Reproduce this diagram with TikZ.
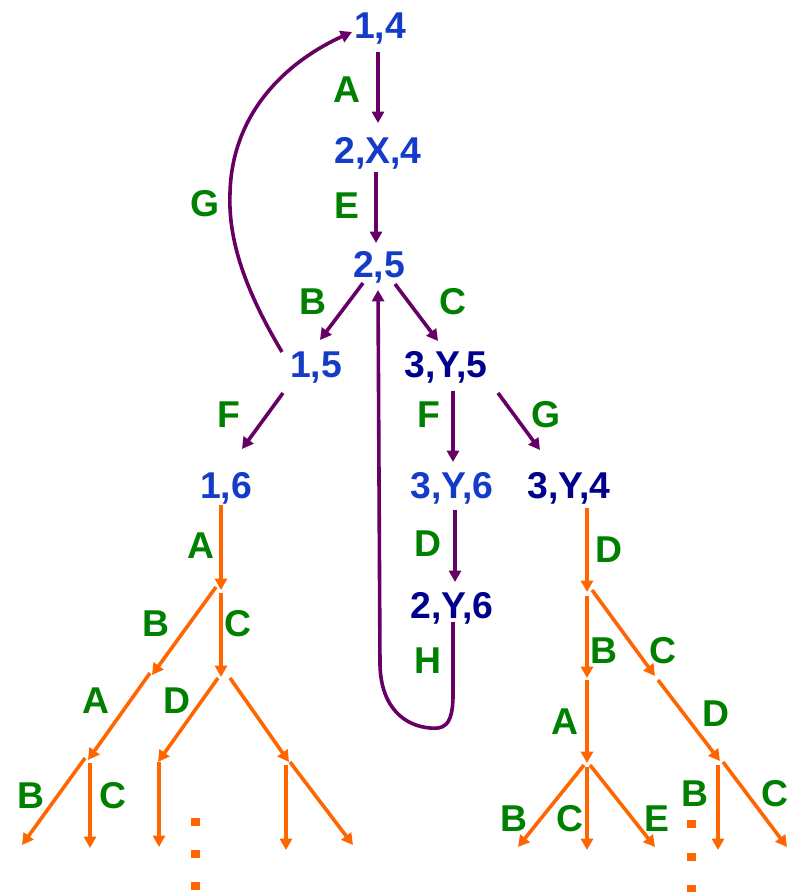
\documentclass[tikz,border=0pt]{standalone}
\usepackage{fontspec}
\setmainfont{Liberation Sans}
\usetikzlibrary{arrows.meta}
\definecolor{stblue}{RGB}{20,60,200}
\definecolor{stnavy}{RGB}{0,0,140}
\definecolor{lblgreen}{RGB}{0,128,0}
\definecolor{arrpurple}{RGB}{102,0,102}
\definecolor{arrorange}{RGB}{255,102,0}
\begin{document}
\begin{tikzpicture}[x=0.75pt,y=-0.75pt,
  txt/.style={font=\fontsize{28}{32}\selectfont\bfseries, inner sep=0pt, text height=20pt, text depth=0pt, anchor=center},
  st/.style={txt, text=stblue},
  stn/.style={txt, text=stnavy},
  lbl/.style={txt, text=lblgreen},
  parr/.style={draw=arrpurple, line width=2.7pt, -{Triangle[width=9pt,length=8.5pt]}},
  oarr/.style={draw=arrorange, line width=2.7pt, -{Triangle[width=9pt,length=8.5pt]}},
  dotsq/.style={fill=arrorange, minimum width=6.75pt, minimum height=6pt, inner sep=0pt}]
\useasboundingbox (0,0) rectangle (794,892);
% state nodes
\node[st] (n14) at (380,25) {1,4};
\node[st] (n2x4) at (378,150) {2,X,4};
\node[st] (n25) at (379,264) {2,5};
\node[st] (n15) at (316,364) {1,5};
\node[stn] (n3y5) at (446,364) {3,Y,5};
\node[st] (n16) at (226,485) {1,6};
\node[st] (n3y6) at (452,485) {3,Y,6};
\node[stn] (n3y4) at (569,485) {3,Y,4};
\node[stn] (n2y6) at (452,605) {2,Y,6};
% purple transitions
\draw[parr] ([shift={(-2,27)}]n14.center) -- ([shift={(0,-27)}]n2x4.center);
\draw[parr] ([shift={(-2,22)}]n2x4.center) -- ([shift={(-3,-21)}]n25.center);
\draw[parr] ([shift={(-16,19)}]n25.center) -- ([shift={(4,-24)}]n15.center);
\draw[parr] ([shift={(16,20)}]n25.center) -- ([shift={(-8,-23)}]n3y5.center);
\draw[parr] ([shift={(-33,29)}]n15.center) -- ([shift={(16,-36)}]n16.center);
\draw[parr] ([shift={(7,27)}]n3y5.center) -- ([shift={(1,-23)}]n3y6.center);
\draw[parr] ([shift={(52,29)}]n3y5.center) -- ([shift={(-29,-35)}]n3y4.center);
\draw[parr] ([shift={(3,25)}]n3y6.center) -- ([shift={(3,-23)}]n2y6.center);
\coordinate (gmid) at (230,193);
\draw[parr] ([shift={(-34,-12)}]n15.center) .. controls (245,290) and (228,240) .. (gmid)
  .. controls (232,110) and (290,60) .. ([shift={(-28,7)}]n14.center);
\coordinate (hbot) at (430,728);
\draw[parr] ([shift={(1,17)}]n2y6.center) -- (453,695) .. controls (453,728) and (442,729) .. (hbot)
  .. controls (405,726) and (381,708) .. (380,665) -- ([shift={(-1,26)}]n25.center);
% green labels
\node[lbl] (la1) at (347,89) {A};
\node[lbl] (le1) at (347,205) {E};
\node[lbl] (lg1) at (205,203) {G};
\node[lbl] (lb1) at (313,301) {B};
\node[lbl] (lc1) at (453,301) {C};
\node[lbl] (lf1) at (229,414) {F};
\node[lbl] (lf2) at (429,414) {F};
\node[lbl] (lg2) at (546,414) {G};
\node[lbl] (ld1) at (428,543) {D};
\node[lbl] (lh1) at (428,660) {H};
% left orange tree
\coordinate (Q1) at (221,590);
\coordinate (Q2) at (152,675);
\coordinate (Q3) at (221,677);
\coordinate (Q4) at (88,760);
\coordinate (Q5) at (158,762);
\coordinate (Q6) at (289,762);
\coordinate (L1) at (22,845);
\coordinate (L2) at (90,848);
\coordinate (L3) at (159,847);
\coordinate (L4) at (286,850);
\coordinate (L5) at (353,845);
\draw[oarr] ([shift={(-5,20)}]n16.center) -- (Q1);
\draw[oarr] ([shift={(-5,-3)}]Q1) -- (Q2);
\draw[oarr] ([shift={(0,3)}]Q1) -- (Q3);
\draw[oarr] ([shift={(-2,-2)}]Q2) -- (Q4);
\draw[oarr] ([shift={(-3,1)}]Q3) -- (Q5);
\draw[oarr] ([shift={(9,1)}]Q3) -- (Q6);
\draw[oarr] ([shift={(-3,-2)}]Q4) -- (L1);
\draw[oarr] ([shift={(2,3)}]Q4) -- (L2);
\draw[oarr] ([shift={(1,0)}]Q5) -- (L3);
\draw[oarr] ([shift={(-3,3)}]Q6) -- (L4);
\draw[oarr] ([shift={(1,0)}]Q6) -- (L5);
\node[lbl] (la2) at (201,545) {A};
\node[lbl] (lb2) at (156,623) {B};
\node[lbl] (lc2) at (238,623) {C};
\node[lbl] (la3) at (96,700) {A};
\node[lbl] (ld2) at (177,700) {D};
\node[lbl] (lb3) at (31,795) {B};
\node[lbl] (lc3) at (113,795) {C};
\node[dotsq] (d1) at (195,822) {};
\node[dotsq] (d2) at (195,854) {};
\node[dotsq] (d3) at (195,886) {};
% right orange tree
\coordinate (P1) at (587,592);
\coordinate (P2) at (587,678);
\coordinate (P3) at (655,676);
\coordinate (P4) at (587,763);
\coordinate (P5) at (720,761);
\coordinate (R1) at (518,847);
\coordinate (R2) at (587,850);
\coordinate (R3) at (655,847);
\coordinate (R4) at (718,850);
\coordinate (R5) at (787,847);
\draw[oarr] ([shift={(18,23)}]n3y4.center) -- (P1);
\draw[oarr] ([shift={(0,4)}]P1) -- (P2);
\draw[oarr] ([shift={(5,-2)}]P1) -- (P3);
\draw[oarr] ([shift={(0,2)}]P2) -- (P4);
\draw[oarr] ([shift={(3,4)}]P3) -- (P5);
\draw[oarr] ([shift={(-3,2)}]P4) -- (R1);
\draw[oarr] ([shift={(0,4)}]P4) -- (R2);
\draw[oarr] ([shift={(3,2)}]P4) -- (R3);
\draw[oarr] ([shift={(-2,4)}]P5) -- (R4);
\draw[oarr] ([shift={(3,1)}]P5) -- (R5);
\node[lbl] (ld3) at (609,549) {D};
\node[lbl] (lb4) at (604,650) {B};
\node[lbl] (lc4) at (663,650) {C};
\node[lbl] (la4) at (565,721) {A};
\node[lbl] (ld4) at (716,713) {D};
\node[lbl] (lb5) at (514,818) {B};
\node[lbl] (lc5) at (570,818) {C};
\node[lbl] (le2) at (657,818) {E};
\node[lbl] (lb6) at (695,793) {B};
\node[lbl] (lc6) at (775,793) {C};
\node[dotsq] (d4) at (691,824) {};
\node[dotsq] (d5) at (691,857) {};
\node[dotsq] (d6) at (691,889) {};
\end{tikzpicture}
\end{document}
